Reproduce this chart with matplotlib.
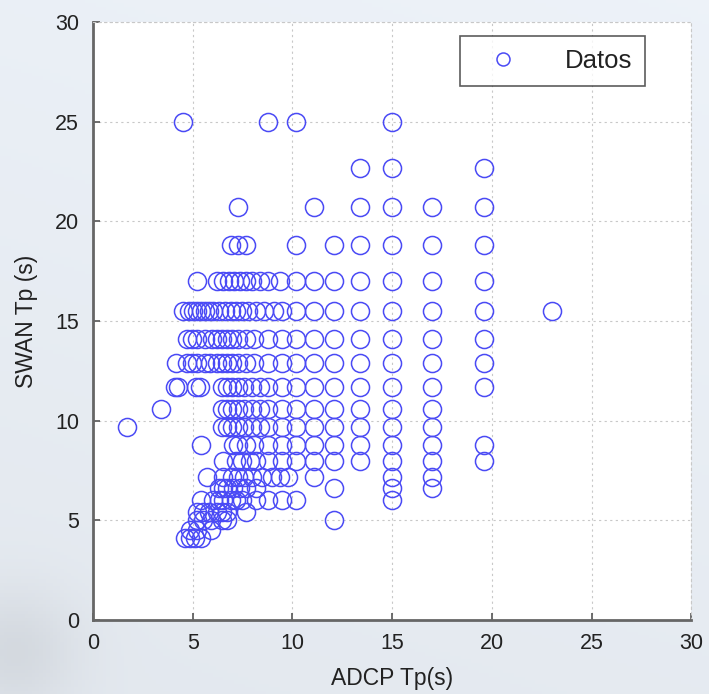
import numpy as np
import matplotlib.pyplot as plt

plt.rcParams['font.family'] = ['Liberation Sans', 'DejaVu Sans']

# SWAN Tp levels (s) and the ADCP Tp values (s) found on each level
swan_levels = [25.0, 22.7, 20.7, 18.8, 17.0, 15.5, 14.1, 12.9, 11.7, 10.6,
               9.7, 8.8, 8.0, 7.2, 6.6, 6.0, 5.4, 5.0, 4.5, 4.1]

adcp_25_0 = [4.5, 8.8, 10.2, 15.0]
adcp_22_7 = [13.4, 15.0, 19.6]
adcp_20_7 = [7.3, 11.1, 13.4, 15.0, 17.0, 19.6]
adcp_18_8 = [6.9, 7.3, 7.7, 10.2, 12.1, 13.4, 15.0, 17.0, 19.6]
adcp_17_0 = [5.2, 6.2, 6.5, 6.8, 7.1, 7.4, 7.7, 8.0, 8.4, 8.8, 9.4, 10.2,
             11.1, 12.1, 13.4, 15.0, 17.0, 19.6]
adcp_15_5 = [4.5, 4.8, 5.0, 5.2, 5.4, 5.6, 5.8, 6.0, 6.3, 6.6, 6.9, 7.2, 7.5,
             7.8, 8.2, 8.6, 9.1, 9.5, 10.2, 11.1, 12.1, 13.4, 15.0, 17.0,
             19.6, 23.0]
adcp_14_1 = [4.7, 4.95, 5.2, 5.6, 5.95, 6.2, 6.45, 6.7, 6.95, 7.3, 7.7, 8.1,
             8.8, 9.5, 10.2, 11.1, 12.1, 13.4, 15.0, 17.0, 19.6]
adcp_12_9 = [4.15, 4.7, 4.95, 5.2, 5.6, 5.85, 6.2, 6.45, 6.7, 6.95, 7.3, 7.7,
             8.1, 8.8, 9.5, 10.2, 11.1, 12.1, 13.4, 15.0, 17.0, 19.6]
adcp_11_7 = [4.1, 4.25, 5.15, 5.35, 6.45, 6.7, 6.95, 7.3, 7.6, 8.0, 8.4, 8.8,
             9.5, 10.2, 11.1, 12.1, 13.4, 15.0, 17.0, 19.6]
adcp_10_6 = [3.4, 6.45, 6.7, 6.95, 7.3, 7.6, 8.0, 8.4, 8.8, 9.5, 10.2, 11.1,
             12.1, 13.4, 15.0, 17.0]
adcp_9_7 = [1.7, 6.45, 6.7, 6.95, 7.3, 7.6, 8.0, 8.4, 8.8, 9.5, 10.2, 11.1,
            12.1, 13.4, 15.0, 17.0]
adcp_8_8 = [5.4, 7.0, 7.3, 7.7, 8.1, 8.8, 9.5, 10.2, 11.1, 12.1, 13.4, 15.0,
            17.0, 19.6]
adcp_8_0 = [6.5, 7.2, 7.5, 7.9, 8.2, 8.8, 9.5, 10.2, 11.1, 12.1, 13.4, 15.0,
            17.0, 19.6]
adcp_7_2 = [5.7, 6.5, 6.95, 7.3, 7.6, 8.0, 8.5, 9.0, 9.4, 9.8, 11.1, 15.0,
            17.0]
adcp_6_6 = [6.3, 6.5, 6.7, 7.0, 7.4, 7.7, 8.2, 12.1, 15.0, 17.0]
adcp_6_0 = [5.4, 6.0, 6.3, 6.5, 6.9, 7.2, 7.5, 8.2, 8.8, 9.5, 10.2, 15.0]
adcp_5_4 = [5.2, 5.5, 5.8, 6.2, 6.45, 6.7, 7.7]
adcp_5_0 = [5.2, 5.5, 5.9, 6.45, 6.7, 12.1]
adcp_4_5 = [4.85, 5.2, 5.9]
adcp_4_1 = [4.6, 4.85, 5.1, 5.4]

adcp_rows = [adcp_25_0, adcp_22_7, adcp_20_7, adcp_18_8, adcp_17_0, adcp_15_5,
             adcp_14_1, adcp_12_9, adcp_11_7, adcp_10_6, adcp_9_7, adcp_8_8,
             adcp_8_0, adcp_7_2, adcp_6_6, adcp_6_0, adcp_5_4, adcp_5_0,
             adcp_4_5, adcp_4_1]

x = []
y = []
for lev, row in zip(swan_levels, adcp_rows):
    x += row
    y += [lev] * len(row)

fig = plt.figure(figsize=(7.09, 6.94), dpi=100)

# pale watery background
bg = fig.add_axes([0, 0, 1, 1], zorder=-10)
gy, gx = np.mgrid[0:1:200j, 0:1:200j]
shade = 0.91 + 0.03 * gy + 0.01 * gx
shade -= 0.06 * np.exp(-((gx - 0.02) ** 2 + (gy - 0.06) ** 2) / 0.008)
rgb = np.dstack([shade - 0.02, shade, shade + 0.025]).clip(0, 1)
bg.imshow(rgb, aspect='auto', extent=[0, 1, 0, 1], origin='lower')
bg.axis('off')

ax = fig.add_axes([0.131, 0.1066, 0.844, 0.8616])
ax.set_facecolor('white')
ax.plot(x, y, 'o', ls='none', mfc='none', mec='#4a4af5', ms=13, mew=1.1,
        label='Datos')

ax.set_xlim(0, 30)
ax.set_ylim(0, 30)
ax.set_xticks(np.arange(0, 31, 5))
ax.set_yticks(np.arange(0, 31, 5))
ax.grid(True, ls=(0, (2, 3)), color='#c8c8c8', lw=0.8)
ax.tick_params(direction='in', length=5, width=1.2, color='#555555',
               labelsize=15.5, labelcolor='#222222', top=False, right=False)
ax.tick_params(axis='x', pad=9)
ax.tick_params(axis='y', pad=10)
for s in ['left', 'bottom']:
    ax.spines[s].set_color('#666666')
    ax.spines[s].set_linewidth(2)
for s in ['top', 'right']:
    ax.spines[s].set_color('#c8c8c8')
    ax.spines[s].set_linestyle((0, (2, 3)))
    ax.spines[s].set_linewidth(0.8)

ax.set_xlabel('ADCP Tp(s)', fontsize=16.5, labelpad=10, color='#222222')
ax.set_ylabel('SWAN Tp (s)', fontsize=16.5, labelpad=12, color='#222222')

leg = ax.legend(loc='upper right', bbox_to_anchor=(0.923, 0.976),
                fontsize=18.5, markerscale=0.72, frameon=True, fancybox=False,
                handlelength=2.4, handletextpad=1.2, borderpad=0.5,
                borderaxespad=0)
leg.get_frame().set_edgecolor('#333333')
leg.get_frame().set_linewidth(1.2)
for t in leg.get_texts():
    t.set_color('#222222')

fig.savefig('out.png', dpi=100)
